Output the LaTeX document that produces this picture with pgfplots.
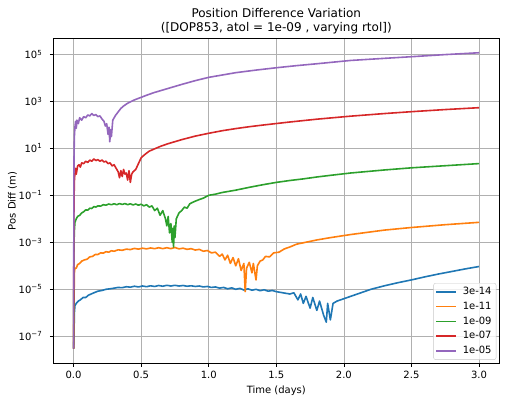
\documentclass[border=0pt]{standalone}
\usepackage{pgfplots}
\pgfplotsset{compat=1.18}
\usepackage{fontspec}
\setmainfont{DejaVu Sans}
\definecolor{c1}{HTML}{1F77B4}
\definecolor{c2}{HTML}{FF7F0E}
\definecolor{c3}{HTML}{2CA02C}
\definecolor{c4}{HTML}{D62728}
\definecolor{c5}{HTML}{9467BD}
\definecolor{gridc}{HTML}{B0B0B0}
\begin{document}
\begin{tikzpicture}
\useasboundingbox (-53.3pt,-39pt) rectangle (452.7pt,363.3pt);
\begin{axis}[
  at={(0pt,0pt)}, anchor=south west,
  scale only axis, width=446pt, height=324.7pt,
  ymode=log, log basis y=10,
  xmin=-0.15, xmax=3.15, ymin=7.08e-9, ymax=4.68e5,
  xtick={0,0.5,1,1.5,2,2.5,3},
  xticklabels={0.0,0.5,1.0,1.5,2.0,2.5,3.0},
  ytick={1e-7,1e-5,1e-3,1e-1,1e1,1e3,1e5},
  yticklabels={10\textsuperscript{−7},10\textsuperscript{−5},10\textsuperscript{−3},10\textsuperscript{−1},10\textsuperscript{1},10\textsuperscript{3},10\textsuperscript{5}},
  yminorticks=false, xminorticks=false,
  grid=major, major grid style={color=gridc, line width=0.7pt},
  tick align=outside, major tick length=3.5pt, tick pos=left,
  tick style={black, line width=0.7pt},
  axis line style={black, line width=0.7pt},
  ticklabel style={font=\fontsize{10}{12}\selectfont},
  yticklabel style={xshift=-4pt},
  xticklabel style={yshift=-1pt},
  label style={font=\fontsize{10}{12}\selectfont},
  xlabel={Time (days)}, ylabel={Pos Diff (m)},
  ylabel style={yshift=-5pt},
  title={Position Difference Variation\\([DOP853, atol = 1e-09 , varying rtol])},
  title style={align=center, font=\fontsize{12}{14}\selectfont, yshift=-4.5pt},
  legend cell align=left,
  legend style={at={(1,0)}, anchor=south east, xshift=-3pt, yshift=3.5pt,
    draw=gridc!70, rounded corners=2pt, fill=white, fill opacity=0.8, text opacity=1,
    font=\fontsize{10}{12}\selectfont, inner xsep=2pt, inner ysep=1.2pt,
    nodes={inner sep=2.5pt, text height=7.5pt, text depth=2.3pt},
    column sep=3pt, row sep=0pt},
  legend image code/.code={\draw[#1, line width=1.6pt] (0pt,0pt) -- (20pt,0pt);},
  every axis plot/.append style={line width=1.6pt, line join=round},
]
\addplot[c1] coordinates {
(0.000,3.0e-8) (0.003,1.00e-7) (0.006,1.00e-6) (0.010,2.00e-6) (0.020,2.51e-6) (0.035,3.16e-6)
(0.050,3.55e-6) (0.070,4.47e-6) (0.090,4.47e-6) (0.110,5.62e-6) (0.130,6.31e-6) (0.150,7.08e-6)
(0.180,8.32e-6) (0.210,8.91e-6) (0.240,1.00e-5) (0.270,1.05e-5) (0.300,1.12e-5) (0.330,1.20e-5)
(0.360,1.17e-5) (0.390,1.29e-5) (0.420,1.23e-5) (0.450,1.35e-5) (0.480,1.26e-5) (0.510,1.38e-5)
(0.540,1.29e-5) (0.570,1.41e-5) (0.600,1.32e-5) (0.630,1.45e-5) (0.660,1.35e-5) (0.690,1.48e-5)
(0.720,1.38e-5) (0.750,1.48e-5) (0.780,1.38e-5) (0.810,1.45e-5) (0.840,1.35e-5) (0.870,1.41e-5)
(0.900,1.32e-5) (0.930,1.38e-5) (0.960,1.26e-5) (0.990,1.32e-5) (1.020,1.20e-5) (1.050,1.26e-5)
(1.080,1.12e-5) (1.110,1.20e-5) (1.140,1.05e-5) (1.170,1.15e-5) (1.200,1.00e-5) (1.230,1.10e-5)
(1.260,9.33e-6) (1.290,1.05e-5) (1.320,9.12e-6) (1.350,1.00e-5) (1.380,8.71e-6) (1.410,9.55e-6)
(1.440,8.32e-6) (1.470,8.91e-6) (1.500,7.94e-6) (1.550,7.08e-6) (1.600,6.31e-6) (1.630,7.08e-6)
(1.660,3.55e-6) (1.680,6.31e-6) (1.700,2.51e-6) (1.720,5.01e-6) (1.750,1.58e-6) (1.770,4.47e-6)
(1.800,1.26e-6) (1.820,3.16e-6) (1.850,7.94e-7) (1.870,3.98e-7) (1.880,2.51e-6) (1.900,5.01e-7)
(1.920,2.51e-6) (1.950,3.16e-6) (2.000,3.98e-6) (2.050,5.01e-6) (2.100,6.31e-6) (2.200,1.00e-5)
(2.300,1.41e-5) (2.400,1.91e-5) (2.500,2.51e-5) (2.600,3.39e-5) (2.700,4.47e-5) (2.800,5.75e-5)
(2.900,7.41e-5) (3.000,9.33e-5)
};
\addlegendentry{3e-14}
\addplot[c2] coordinates {
(0.000,3e-8) (0.003,2.00e-6) (0.006,5.01e-5) (0.010,7.94e-5) (0.020,7.94e-5) (0.030,1.12e-4)
(0.045,1.26e-4) (0.060,1.58e-4) (0.080,1.78e-4) (0.100,1.91e-4) (0.120,2.40e-4) (0.140,2.51e-4)
(0.160,3.02e-4) (0.180,3.02e-4) (0.200,3.55e-4) (0.220,3.47e-4) (0.240,3.98e-4) (0.260,3.80e-4)
(0.280,4.37e-4) (0.300,4.17e-4) (0.330,4.79e-4) (0.360,4.57e-4) (0.390,5.13e-4) (0.420,4.90e-4)
(0.450,5.50e-4) (0.480,5.13e-4) (0.510,5.62e-4) (0.540,5.25e-4) (0.570,5.75e-4) (0.600,5.37e-4)
(0.630,5.89e-4) (0.660,5.37e-4) (0.690,5.89e-4) (0.720,5.37e-4) (0.750,6.03e-4) (0.780,5.25e-4)
(0.810,5.62e-4) (0.840,5.01e-4) (0.870,5.37e-4) (0.900,4.68e-4) (0.930,5.01e-4) (0.960,4.17e-4)
(0.990,4.47e-4) (1.020,3.55e-4) (1.050,3.80e-4) (1.080,2.51e-4) (1.100,3.16e-4) (1.120,1.78e-4)
(1.140,2.82e-4) (1.160,1.26e-4) (1.180,2.24e-4) (1.200,1.00e-4) (1.220,2.00e-4) (1.240,6.31e-5)
(1.260,1.26e-4) (1.270,7.94e-6) (1.280,7.94e-5) (1.300,1.41e-4) (1.320,5.01e-5) (1.330,1.26e-4)
(1.350,2.51e-5) (1.360,1.00e-4) (1.380,1.58e-4) (1.400,1.78e-4) (1.420,2.51e-4) (1.450,2.40e-4)
(1.480,3.55e-4) (1.520,3.80e-4) (1.560,5.25e-4) (1.600,6.31e-4) (1.650,8.32e-4) (1.700,9.55e-4)
(1.800,1.26e-3) (1.900,1.58e-3) (2.050,2.14e-3) (2.300,3.31e-3) (2.500,4.27e-3) (2.750,5.62e-3)
(3.000,7.08e-3)
};
\addlegendentry{1e-11}
\addplot[c3] coordinates {
(0.000,3e-8) (0.003,7.94e-4) (0.006,3.16e-3) (0.010,7.08e-3) (0.020,1.00e-2) (0.030,1.26e-2)
(0.045,1.41e-2) (0.060,1.78e-2) (0.075,2.00e-2) (0.090,2.40e-2) (0.105,2.34e-2) (0.120,2.82e-2)
(0.135,2.75e-2) (0.150,3.31e-2) (0.165,3.16e-2) (0.180,3.55e-2) (0.200,3.47e-2) (0.220,3.98e-2)
(0.240,3.80e-2) (0.260,4.27e-2) (0.280,3.98e-2) (0.300,4.37e-2) (0.320,3.98e-2) (0.340,4.47e-2)
(0.360,4.07e-2) (0.380,4.47e-2) (0.400,3.98e-2) (0.420,4.37e-2) (0.440,3.89e-2) (0.460,4.27e-2)
(0.480,3.80e-2) (0.500,4.17e-2) (0.520,3.55e-2) (0.540,3.98e-2) (0.560,3.16e-2) (0.580,3.55e-2)
(0.600,2.24e-2) (0.620,2.82e-2) (0.640,1.41e-2) (0.660,2.24e-2) (0.680,1.00e-2) (0.690,5.01e-3)
(0.700,1.26e-2) (0.710,2.51e-3) (0.720,6.31e-3) (0.730,1.00e-3) (0.735,3.98e-3) (0.740,6.31e-4)
(0.745,5.01e-3) (0.750,1.58e-3) (0.760,1.00e-2) (0.780,1.78e-2) (0.800,2.24e-2) (0.820,3.16e-2)
(0.840,2.82e-2) (0.860,4.37e-2) (0.880,5.01e-2) (0.900,5.62e-2) (0.930,6.61e-2) (0.960,7.59e-2)
(1.000,1.00e-1) (1.050,1.12e-1) (1.100,1.32e-1) (1.200,1.66e-1) (1.300,2.19e-1) (1.400,2.82e-1)
(1.500,3.55e-1) (1.600,4.27e-1) (1.700,5.01e-1) (1.800,6.03e-1) (1.900,7.08e-1) (2.050,8.91e-1)
(2.300,1.20e0) (2.500,1.48e0) (2.750,1.82e0) (3.000,2.24e0)
};
\addlegendentry{1e-09}
\addplot[c4] coordinates {
(0.000,3e-8) (0.003,5.01e-2) (0.006,3.98e-1) (0.010,8.91e-1) (0.015,1.41e0) (0.020,7.94e-1)
(0.030,1.78e0) (0.040,2.00e0) (0.050,1.58e0) (0.060,2.40e0) (0.075,2.24e0) (0.090,2.82e0)
(0.105,2.51e0) (0.120,3.16e0) (0.135,2.82e0) (0.150,3.55e0) (0.165,3.02e0) (0.180,3.31e0)
(0.195,2.82e0) (0.210,3.16e0) (0.225,2.63e0) (0.240,2.82e0) (0.255,2.24e0) (0.270,2.40e0)
(0.285,1.78e0) (0.300,2.00e0) (0.315,1.41e0) (0.330,1.00e0) (0.340,5.62e-1) (0.350,1.12e0)
(0.360,6.31e-1) (0.370,1.26e0) (0.380,7.94e-1) (0.390,8.91e-1) (0.400,4.47e-1) (0.410,1.12e0)
(0.420,3.55e-1) (0.430,7.94e-1) (0.440,1.00e0) (0.460,1.26e0) (0.480,2.24e0) (0.500,3.98e0)
(0.530,5.62e0) (0.560,7.59e0) (0.600,9.55e0) (0.650,1.26e1) (0.700,1.58e1) (0.800,2.34e1)
(0.900,3.31e1) (1.000,4.37e1) (1.100,5.62e1) (1.200,6.92e1) (1.300,8.32e1) (1.400,9.77e1)
(1.600,1.32e2) (1.800,1.74e2) (2.050,2.34e2) (2.300,3.02e2) (2.500,3.63e2) (2.750,4.47e2)
(3.000,5.37e2)
};
\addlegendentry{1e-07}
\addplot[c5] coordinates {
(0.000,3e-8) (0.003,3.16e0) (0.006,3.16e1) (0.010,7.94e1) (0.015,1.41e2) (0.020,7.08e1)
(0.025,1.58e2) (0.035,1.12e2) (0.045,2.00e2) (0.060,1.58e2) (0.075,2.24e2) (0.090,2.00e2)
(0.105,2.63e2) (0.120,2.40e2) (0.135,3.02e2) (0.150,2.51e2) (0.165,2.75e2) (0.180,2.24e2)
(0.195,2.40e2) (0.210,1.78e2) (0.225,1.41e2) (0.235,8.91e1) (0.245,1.12e2) (0.255,3.98e1)
(0.262,7.94e1) (0.268,1.91e1) (0.274,6.31e1) (0.280,3.16e1) (0.290,1.58e2) (0.310,2.51e2)
(0.330,3.55e2) (0.350,5.01e2) (0.370,6.31e2) (0.400,8.32e2) (0.450,1.15e3) (0.500,1.48e3)
(0.550,1.91e3) (0.600,2.40e3) (0.700,3.55e3) (0.800,5.25e3) (0.900,7.59e3) (1.000,1.05e4)
(1.100,1.32e4) (1.200,1.66e4) (1.350,2.14e4) (1.500,2.69e4) (1.650,3.31e4) (1.800,3.98e4)
(2.050,5.50e4) (2.300,6.76e4) (2.500,7.94e4) (2.750,9.77e4) (3.000,1.17e5)
};
\addlegendentry{1e-05}
\end{axis}
\end{tikzpicture}
\end{document}
